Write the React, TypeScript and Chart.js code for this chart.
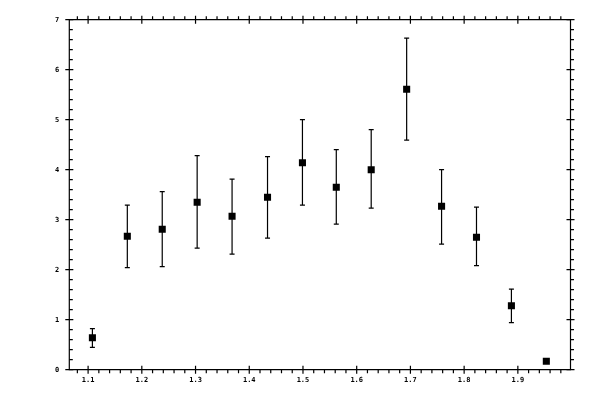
import React, { useEffect, useRef } from "react";
import { Chart, registerables } from "chart.js";

Chart.register(...registerables);

const xValues = [1.108, 1.173, 1.238, 1.303, 1.368, 1.434, 1.499, 1.562, 1.627, 1.693, 1.758, 1.823, 1.888, 1.953];
const yValues = [0.64, 2.67, 2.81, 3.35, 3.07, 3.45, 4.14, 3.65, 4.0, 5.61, 3.27, 2.65, 1.28, 0.17];
const yHigh = [0.82, 3.29, 3.56, 4.28, 3.81, 4.26, 5.0, 4.4, 4.8, 6.63, 4.0, 3.25, 1.61, 0.17];
const yLow = [0.445, 2.04, 2.06, 2.43, 2.31, 2.63, 3.29, 2.91, 3.23, 4.59, 2.51, 2.08, 0.94, 0.17];

const X_MIN = 1.065;
const X_MAX = 1.998;
const Y_MIN = 0;
const Y_MAX = 7;
const X_MINOR = 0.02;
const Y_MINOR = 0.2;

const errorBarPlugin = {
  id: "errorBars",
  afterDatasetsDraw(chart: any) {
    const ctx = chart.ctx;
    const xs = chart.scales.x;
    const ys = chart.scales.y;
    ctx.save();
    ctx.strokeStyle = "#000";
    ctx.lineWidth = 1.2;
    const cap = 2.5;
    for (let i = 0; i < xValues.length; i++) {
      if (yHigh[i] === yLow[i]) continue;
      const px = xs.getPixelForValue(xValues[i]);
      const pt = ys.getPixelForValue(yHigh[i]);
      const pb = ys.getPixelForValue(yLow[i]);
      ctx.beginPath();
      ctx.moveTo(px, pt);
      ctx.lineTo(px, pb);
      ctx.moveTo(px - cap, pt);
      ctx.lineTo(px + cap, pt);
      ctx.moveTo(px - cap, pb);
      ctx.lineTo(px + cap, pb);
      ctx.stroke();
    }
    ctx.restore();
  },
};

const frameTicksPlugin = {
  id: "frameTicks",
  afterDraw(chart: any) {
    const ctx = chart.ctx;
    const { left, right, top, bottom } = chart.chartArea;
    const xs = chart.scales.x;
    const ys = chart.scales.y;
    ctx.save();
    ctx.strokeStyle = "#000";
    ctx.lineWidth = 1.2;
    ctx.beginPath();
    ctx.rect(left, top, right - left, bottom - top);
    ctx.stroke();
    ctx.beginPath();
    const minorLen = 3.5;
    const majorLen = 4;
    const kx0 = Math.ceil(X_MIN / X_MINOR - 1e-6);
    const kx1 = Math.floor(X_MAX / X_MINOR + 1e-6);
    for (let k = kx0; k <= kx1; k++) {
      const px = xs.getPixelForValue(k * X_MINOR);
      const major = k % 5 === 0;
      if (major) {
        ctx.moveTo(px, bottom - majorLen);
        ctx.lineTo(px, bottom + majorLen);
        ctx.moveTo(px, top - majorLen);
        ctx.lineTo(px, top + majorLen);
      } else {
        ctx.moveTo(px, bottom);
        ctx.lineTo(px, bottom + minorLen);
        ctx.moveTo(px, top);
        ctx.lineTo(px, top - minorLen);
      }
    }
    const ky0 = Math.ceil(Y_MIN / Y_MINOR - 1e-6);
    const ky1 = Math.floor(Y_MAX / Y_MINOR + 1e-6);
    for (let k = ky0; k <= ky1; k++) {
      const py = ys.getPixelForValue(k * Y_MINOR);
      const major = k % 5 === 0;
      if (major) {
        ctx.moveTo(left - majorLen, py);
        ctx.lineTo(left + majorLen, py);
        ctx.moveTo(right - majorLen, py);
        ctx.lineTo(right + majorLen, py);
      } else {
        ctx.moveTo(left, py);
        ctx.lineTo(left + minorLen, py);
        ctx.moveTo(right, py);
        ctx.lineTo(right + minorLen, py);
      }
    }
    ctx.stroke();
    ctx.restore();
  },
};

export default function App() {
  const canvasRef = useRef<HTMLCanvasElement>(null);

  useEffect(() => {
    if (!canvasRef.current) return;
    const font = { family: "'DejaVu Sans Mono', monospace", size: 7, weight: "bold" as const };
    const chart = new Chart(canvasRef.current, {
      type: "scatter",
      data: {
        datasets: [
          {
            data: xValues.map((x, i) => ({ x, y: yValues[i] })),
            pointStyle: "rect",
            pointRadius: 5,
            pointHoverRadius: 5,
            backgroundColor: "#000",
            borderColor: "#000",
            borderWidth: 0,
            showLine: false,
          },
        ],
      },
      plugins: [errorBarPlugin, frameTicksPlugin],
      options: {
        animation: false,
        responsive: false,
        events: [],
        layout: { padding: { top: 19.7, right: 29.5, left: 0, bottom: 0 } },
        plugins: { legend: { display: false }, tooltip: { enabled: false } },
        scales: {
          x: {
            type: "linear",
            min: X_MIN,
            max: X_MAX,
            afterBuildTicks: (scale: any) => {
              const t = [];
              for (let k = 11; k <= 19; k++) t.push({ value: k / 10 });
              scale.ticks = t;
            },
            afterFit: (scale: any) => {
              scale.height = 30.3;
            },
            grid: { display: false, drawTicks: false },
            border: { display: false },
            ticks: {
              color: "#000",
              font,
              padding: 6,
              maxRotation: 0,
              callback: (v: any) => Number(v).toFixed(1),
            },
          },
          y: {
            type: "linear",
            min: Y_MIN,
            max: Y_MAX,
            afterBuildTicks: (scale: any) => {
              const t = [];
              for (let k = 0; k <= 7; k++) t.push({ value: k });
              scale.ticks = t;
            },
            afterFit: (scale: any) => {
              scale.width = 69.3;
            },
            grid: { display: false, drawTicks: false },
            border: { display: false },
            ticks: {
              color: "#000",
              font,
              padding: 10,
              callback: (v: any) => String(v),
            },
          },
        },
      },
    });
    return () => chart.destroy();
  }, []);

  return (
    <div style={{ position: "absolute", left: 0, top: 0, width: 600, height: 400, background: "#fff" }}>
      <canvas ref={canvasRef} width={600} height={400} />
    </div>
  );
}
